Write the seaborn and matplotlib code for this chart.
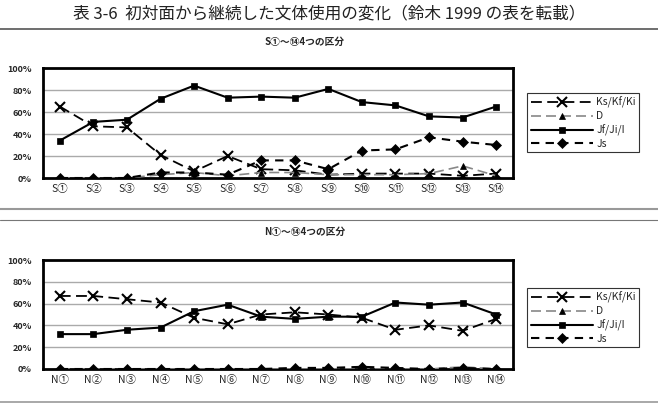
import matplotlib
matplotlib.use("Agg")
import matplotlib.pyplot as plt
import seaborn as sns
import pandas as pd
import numpy as np
from matplotlib.lines import Line2D

sns.set_style("white")
plt.rcParams['font.family'] = ['Noto Sans CJK JP', 'DejaVu Sans']

# ---- data ----
circled = ["①", "②", "③", "④", "⑤", "⑥", "⑦", "⑧", "⑨", "⑩", "⑪", "⑫", "⑬", "⑭"]
s_labels = ["S" + c for c in circled]
n_labels = ["N" + c for c in circled]
series_names = ["Ks/Kf/Ki", "D", "Jf/Ji/I", "Js"]
y_ticks = [0, 20, 40, 60, 80, 100]
y_tick_labels = ["0%", "20%", "40%", "60%", "80%", "100%"]

s_ks = [65, 47, 46, 21, 6, 20, 8, 7, 3, 4, 4, 4, 2, 4]
s_d = [0, 0, 0, 3, 5, 2, 5, 5, 3, 3, 3, 4, 11, 2]
s_jf = [34, 51, 53, 72, 84, 73, 74, 73, 81, 69, 66, 56, 55, 65]
s_js = [0, 0, 0, 5, 5, 3, 16, 16, 8, 25, 26, 37, 33, 30]

n_ks = [67, 67, 64, 61, 47, 41, 50, 52, 50, 47, 36, 40, 35, 46]
n_d = [0, 0, 0, 0, 0, 0, 0, 0, 0, 0, 0, 0, 2, 0]
n_jf = [32, 32, 36, 38, 53, 59, 48, 46, 48, 48, 61, 59, 61, 50]
n_js = [0, 0, 0, 0, 0, 0, 0, 1, 1, 2, 1, 0, 1, 0]

title = "表 3-6  初対面から継続した文体使用の変化（鈴木 1999 の表を転載）"
sub_s = "S①～⑭4つの区分"
sub_n = "N①～⑭4つの区分"

W, H = 658, 408
fig = plt.figure(figsize=(W / 100, H / 100), dpi=100)

def fx(px):
    return px / W

def fy(py):
    return 1 - py / H

styles = {
    "Ks/Kf/Ki": dict(color="black", linestyle=(0, (6, 3)), lw=1.3, marker="x", ms=7, mew=1.5),
    "D": dict(color="#888888", linestyle=(0, (6, 3)), lw=1.2, marker="^", ms=4, mew=0.5),
    "Jf/Ji/I": dict(color="black", linestyle="-", lw=1.5, marker="s", ms=5, mew=0.5),
    "Js": dict(color="black", linestyle=(0, (4, 3)), lw=1.5, marker="D", ms=5, mew=0.5),
}

def draw(ax, labels, data):
    x = np.arange(len(labels))
    df = pd.DataFrame({"x": np.tile(x, 4),
                       "v": sum(data, []),
                       "s": np.repeat(series_names, len(labels))})
    for name in series_names:
        st = styles[name]
        sub = df[df.s == name]
        sns.lineplot(data=sub, x="x", y="v", ax=ax, color=st["color"],
                     linestyle=st["linestyle"], lw=st["lw"], marker=st["marker"],
                     markersize=st["ms"], markeredgewidth=st["mew"],
                     markeredgecolor="black", markerfacecolor="black",
                     legend=False, zorder=3)
    ax.set_xlim(-0.5, len(labels) - 0.5)
    ax.set_ylim(0, 100)
    ax.set_yticks(y_ticks)
    ax.set_yticklabels(y_tick_labels, fontsize=6.5, fontweight="bold")
    ax.set_xticks(x)
    ax.set_xticklabels(labels, fontsize=7.5)
    ax.set_xlabel("")
    ax.set_ylabel("")
    for g in [20, 40, 60, 80]:
        ax.axhline(g, color="#aaaaaa", lw=1, zorder=1)
    for sp in ax.spines.values():
        sp.set_linewidth(2)
        sp.set_color("black")
    ax.tick_params(axis="both", length=0, pad=4)
    ax.tick_params(axis="y", pad=8)

def legend(ax, top_px):
    handles = []
    for name in series_names:
        st = styles[name]
        handles.append(Line2D([], [], color=st["color"], linestyle=st["linestyle"],
                              lw=st["lw"], marker=st["marker"], markersize=st["ms"],
                              markeredgewidth=st["mew"], markeredgecolor="black",
                              markerfacecolor="black"))
    leg = ax.legend(handles, series_names, loc="upper left",
                    bbox_to_anchor=(fx(527), fy(top_px)), bbox_transform=fig.transFigure,
                    borderaxespad=0, fancybox=False, framealpha=1, fontsize=7.5,
                    handlelength=6, labelspacing=0.3, borderpad=0.35, handletextpad=0.3)
    leg.get_frame().set_edgecolor("#333333")
    leg.get_frame().set_linewidth(0.8)

ax1 = fig.add_axes([fx(43), fy(178), fx(513 - 43), (178 - 68) / H])
draw(ax1, s_labels, [s_ks, s_d, s_jf, s_js])
legend(ax1, 93)

ax2 = fig.add_axes([fx(43), fy(369), fx(513 - 43), (369 - 260) / H])
draw(ax2, n_labels, [n_ks, n_d, n_jf, n_js])
legend(ax2, 288)

fig.text(0.5, fy(14), title, ha="center", va="center", fontsize=12, color="#222222")
fig.text(fx(305), fy(42), sub_s, ha="center", va="center", fontsize=7, fontweight="bold")
fig.text(fx(305), fy(232), sub_n, ha="center", va="center", fontsize=7, fontweight="bold")

for ypx, c, w in [(29, "#555555", 1.2), (209, "#999999", 1.5), (220, "#777777", 0.8), (402, "#999999", 1.2)]:
    fig.add_artist(Line2D([0, 1], [fy(ypx), fy(ypx)], color=c, lw=w, transform=fig.transFigure))

fig.savefig("out.png", dpi=100)
